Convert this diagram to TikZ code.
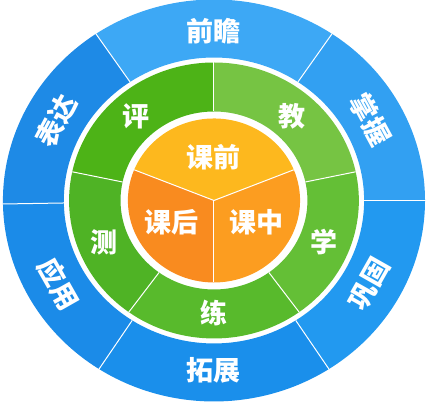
\documentclass[tikz,border=0pt]{standalone}
\usepackage{fontspec}
\usepackage{xcolor}
\newfontfamily\cjk{Noto Sans CJK SC}
\definecolor{blueTop}{HTML}{3DA8F5}
\definecolor{blueUR}{HTML}{32A0F2}
\definecolor{blueLR}{HTML}{2299F0}
\definecolor{blueBot}{HTML}{1A8FEB}
\definecolor{blueLL}{HTML}{1B8BE8}
\definecolor{blueUL}{HTML}{1E8AE6}
\definecolor{greenPing}{HTML}{4DB317}
\definecolor{greenJiao}{HTML}{76C443}
\definecolor{greenXue}{HTML}{64BF36}
\definecolor{greenLian}{HTML}{58BA2C}
\definecolor{greenCe}{HTML}{4FB325}
\definecolor{orangeQian}{HTML}{FDB81E}
\definecolor{orangeZhong}{HTML}{FC9D20}
\definecolor{orangeHou}{HTML}{F98B1F}
% ring piece: start angle, end angle, inner radius, outer radius, colour
\newcommand{\ringpart}[5]{\fill[#5] (#1:#3) arc[start angle=#1, end angle=#2, radius=#3] -- (#2:#4) arc[start angle=#2, end angle=#1, radius=#4] -- cycle;}
\newcommand{\piepart}[4]{\fill[#4] (0,0) -- (#1:#3) arc[start angle=#1, end angle=#2, radius=#3] -- cycle;}
\tikzset{
  lbl/.style={text=white, inner sep=0pt, font=\cjk\bfseries\fontsize{27}{27}\selectfont},
  sepline/.style={white, line width=1pt},
}
\begin{document}
\begin{tikzpicture}[x=1pt, y=1pt, xscale=1.05]
	\useasboundingbox (-203.8,-201.5) rectangle (204.8,200.5);
	% outer ring
	\ringpart{56}{124}{143}{201}{blueTop}
	\ringpart{0}{56}{143}{201}{blueUR}
	\ringpart{-57}{0}{143}{201}{blueLR}
	\ringpart{-123}{-57}{143}{201}{blueBot}
	\ringpart{181}{237}{143}{201}{blueLL}
	\ringpart{124}{181}{143}{201}{blueUL}
	\foreach \a in {56,124,0,-57,-123,181}
		\draw[sepline] (\a:143) -- (\a:201.5);
	% middle ring
	\ringpart{90}{168}{89}{138}{greenPing}
	\ringpart{12}{90}{89}{138}{greenJiao}
	\ringpart{-54}{12}{89}{138}{greenXue}
	\ringpart{-126}{-54}{89}{138}{greenLian}
	\ringpart{168}{234}{89}{138}{greenCe}
	\foreach \a in {90,168,12,-54,-126}
		\draw[sepline] (\a:89) -- (\a:138);
	% centre
	\piepart{22}{158}{82}{orangeQian}
	\piepart{-90}{22}{82}{orangeZhong}
	\piepart{158}{270}{82}{orangeHou}
	\foreach \a in {22,158,270}
		\draw[sepline] (0,0) -- (\a:82);
	% labels
	\node[lbl] (qianzhan) at (90:169) {前瞻};
	\node[lbl, rotate=-61.5] (zhangwo) at (28.5:170) {掌握};
	\node[lbl, rotate=60.5] (gonggu) at (-29.5:170) {巩固};
	\node[lbl] (tuozhan) at (270:169.5) {拓展};
	\node[lbl, rotate=-60.5] (yingyong) at (209.5:170) {应用};
	\node[lbl, rotate=62] (biaoda) at (152:170) {表达};
	\node[lbl] (ping) at (131.5:112) {评};
	\node[lbl] (jiao) at (48.5:112) {教};
	\node[lbl] (xue) at (-21.5:113) {学};
	\node[lbl] (lian) at (270:113) {练};
	\node[lbl] (ce) at (201.5:113) {测};
	\node[lbl] (keqian) at (90:43.5) {课前};
	\node[lbl] (kezhong) at (-28:46) {课中};
	\node[lbl] (kehou) at (208:46) {课后};
\end{tikzpicture}
\end{document}
